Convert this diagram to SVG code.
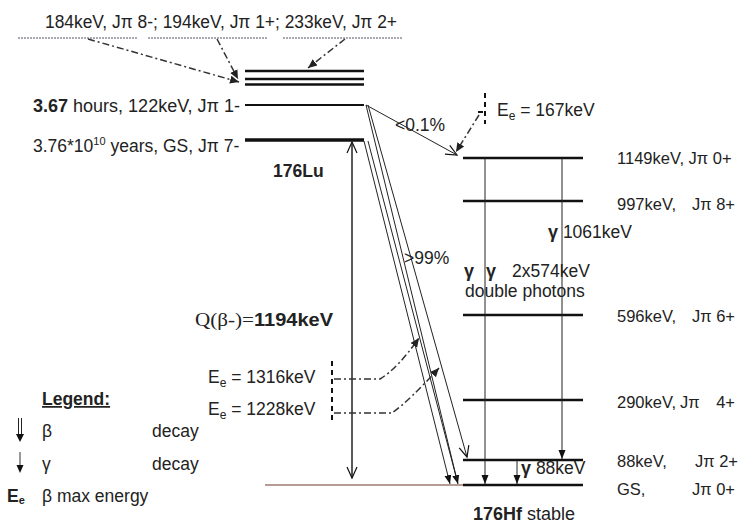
<svg xmlns="http://www.w3.org/2000/svg" width="742" height="524" viewBox="0 0 742 524">
<style>
text{font-family:"Liberation Sans",Arial,sans-serif;font-size:17.5px;fill:#222}
.b{font-weight:bold}
.r{font-size:16.5px}
.e{text-anchor:end}
.lvl{stroke:#111;stroke-width:2.5;fill:none}
.thin{stroke:#222;stroke-width:1;fill:none}
.dd{stroke:#333;stroke-width:1.5;fill:none;stroke-dasharray:7,3,2,3}
.ul{stroke:#556;stroke-width:1;stroke-dasharray:2,1}
.vdash{stroke:#111;stroke-width:2;stroke-dasharray:5,4;fill:none}
</style>
<defs>
<marker id="tri" markerUnits="userSpaceOnUse" markerWidth="10" markerHeight="10" refX="9" refY="5" orient="auto"><path d="M0,1.5 L9,5 L0,8.5 Z" fill="#111"/></marker>
<marker id="vo" markerUnits="userSpaceOnUse" markerWidth="14" markerHeight="14" refX="12" refY="7" orient="auto"><path d="M1,2 L12,7 L1,12" fill="none" stroke="#111" stroke-width="1.2"/></marker>
<marker id="dda" markerUnits="userSpaceOnUse" markerWidth="10" markerHeight="10" refX="9" refY="5" orient="auto"><path d="M0,1 L9,5 L0,9 Z" fill="#222"/></marker>
</defs>

<g id="top-levels">
<text x="45" y="28" textLength="352" lengthAdjust="spacingAndGlyphs">184keV, Jπ 8-; 194keV, Jπ 1+; 233keV, Jπ 2+</text>
<line class="ul" x1="18" y1="38" x2="138" y2="38"/>
<line class="ul" x1="148" y1="38" x2="268" y2="38"/>
<line class="ul" x1="283" y1="38" x2="402" y2="38"/>
</g>

<g id="lu176">
<line class="lvl" x1="245" y1="71" x2="364" y2="71"/>
<line class="lvl" x1="245" y1="79" x2="364" y2="79"/>
<line class="lvl" x1="245" y1="84.5" x2="364" y2="84.5"/>
<line class="lvl" x1="245" y1="105" x2="364" y2="105" style="stroke-width:2"/>
<line class="lvl" x1="245" y1="140" x2="364" y2="140" style="stroke-width:3.5"/>
<text x="33" y="112" textLength="207" lengthAdjust="spacingAndGlyphs"><tspan class="b">3.67</tspan> hours, 122keV, Jπ 1-</text>
<text x="33" y="152">3.76*10<tspan font-size="11" dy="-7">10</tspan><tspan dy="7"> years, GS, Jπ 7-</tspan></text>
<text x="273" y="177" class="b" font-size="17">176Lu</text>
</g>

<g id="hf176">
<line class="lvl" x1="463" y1="158" x2="583" y2="158"/>
<line class="lvl" x1="463" y1="201" x2="583" y2="201"/>
<line class="lvl" x1="463" y1="315" x2="583" y2="315"/>
<line class="lvl" x1="463" y1="400" x2="583" y2="400"/>
<line class="lvl" x1="463" y1="460" x2="583" y2="460"/>
<line class="lvl" x1="463" y1="485" x2="583" y2="485"/>
<line x1="265" y1="485" x2="463" y2="485" stroke="#6b3a2a" stroke-width="1"/>
<text class="r" x="617" y="164">1149keV, Jπ 0+</text>
<text class="r" x="617" y="210">997keV,</text><text class="r e" x="735" y="210">Jπ 8+</text>
<text class="r" x="617" y="322">596keV,</text><text class="r e" x="735" y="322">Jπ 6+</text>
<text class="r" x="617" y="408">290keV,</text><text class="r" x="680" y="408">Jπ</text><text class="r e" x="735" y="408">4+</text>
<text class="r" x="617" y="467">88keV,</text><text class="r e" x="738" y="467">Jπ 2+</text>
<text class="r" x="617" y="495">GS,</text><text class="r e" x="735" y="495">Jπ 0+</text>
<text x="473" y="520" textLength="102" lengthAdjust="spacingAndGlyphs"><tspan class="b">176Hf</tspan> stable</text>
</g>

<g id="connectors">
<line class="dd" x1="88" y1="39" x2="239" y2="82" marker-end="url(#dda)"/>
<line class="dd" x1="217" y1="39" x2="238" y2="79" marker-end="url(#dda)"/>
<line class="dd" x1="345" y1="39" x2="308" y2="68" marker-end="url(#dda)"/>
<line class="thin" x1="352" y1="478" x2="352" y2="142" marker-end="url(#vo)"/>
<line class="thin" x1="352" y1="142" x2="352" y2="478" marker-end="url(#vo)"/>
<line class="thin" x1="366" y1="105" x2="457" y2="155" marker-end="url(#vo)"/>
<line class="thin" x1="364" y1="141" x2="450" y2="484" marker-end="url(#tri)"/>
<line class="thin" x1="368" y1="141" x2="458" y2="484" marker-end="url(#tri)"/>
<line class="thin" x1="366" y1="105" x2="457" y2="480"/>
<line class="thin" x1="368" y1="105" x2="467" y2="457" marker-end="url(#vo)"/>
<line class="thin" x1="485" y1="158" x2="485" y2="484" marker-end="url(#tri)"/>
<line class="thin" x1="562" y1="158" x2="562" y2="459" marker-end="url(#tri)"/>
<line class="thin" x1="517" y1="460" x2="517" y2="484" marker-end="url(#tri)"/>
<line class="vdash" x1="485" y1="93" x2="485" y2="124"/>
<line x1="478" y1="112" x2="483" y2="112" stroke="#111" stroke-width="2"/>
<line class="dd" x1="479" y1="115" x2="456" y2="152" marker-end="url(#dda)"/>
<line class="vdash" x1="332" y1="361" x2="332" y2="424"/>
<path class="dd" d="M334,379 L380,379 Q398,368 419,338" marker-end="url(#dda)"/>
<path class="dd" d="M334,413 L392,413 Q410,400 439,368" marker-end="url(#dda)"/>
</g>

<g id="labels">
<text x="395" y="131" font-size="18">&lt;0.1%</text>
<text x="404" y="264">&gt;99%</text>
<text x="497" y="116">E<tspan font-size="12" dy="4">e</tspan><tspan dy="-4"> = 167keV</tspan></text>
<text x="548" y="238" font-size="16.5"><tspan class="b" font-size="18">γ</tspan> 1061keV</text>
<text x="464" y="277" font-size="16.5"><tspan class="b" font-size="18">γ</tspan><tspan class="b" font-size="18" x="486">γ</tspan><tspan x="512">2x574keV</tspan></text>
<text x="465" y="297" font-size="17">double photons</text>
<text x="521" y="474" font-size="16.5"><tspan class="b" font-size="18">γ</tspan> 88keV</text>
<text x="195" y="326" textLength="138" lengthAdjust="spacingAndGlyphs"><tspan font-family="Liberation Serif,serif" font-size="19">Q(β-)=</tspan><tspan class="b" font-size="18">1194keV</tspan></text>
<text x="208" y="383" font-size="18">E<tspan font-size="12" dy="4">e</tspan><tspan dy="-4"> = 1316keV</tspan></text>
<text x="208" y="415" font-size="18">E<tspan font-size="12" dy="4">e</tspan><tspan dy="-4"> = 1228keV</tspan></text>
</g>

<g id="legend">
<text x="42" y="405" class="b" text-decoration="underline" font-size="17">Legend:</text>
<line x1="18.5" y1="418" x2="18.5" y2="436" stroke="#222" stroke-width="1"/>
<line x1="21.5" y1="418" x2="21.5" y2="436" stroke="#222" stroke-width="1"/>
<path d="M16,434 L24,434 L20,442 Z" fill="#111"/>
<text x="42" y="437">β</text><text x="152" y="437">decay</text>
<line x1="20" y1="452" x2="20" y2="467" stroke="#333" stroke-width="1"/>
<path d="M16.5,465 L23.5,465 L20,473 Z" fill="#111"/>
<text x="42" y="470">γ</text><text x="152" y="470">decay</text>
<text x="7" y="502" font-family="Liberation Serif,serif" class="b" font-size="17">E<tspan font-size="11" dy="2">e</tspan></text>
<text x="42" y="502">β max energy</text>
</g>
</svg>
